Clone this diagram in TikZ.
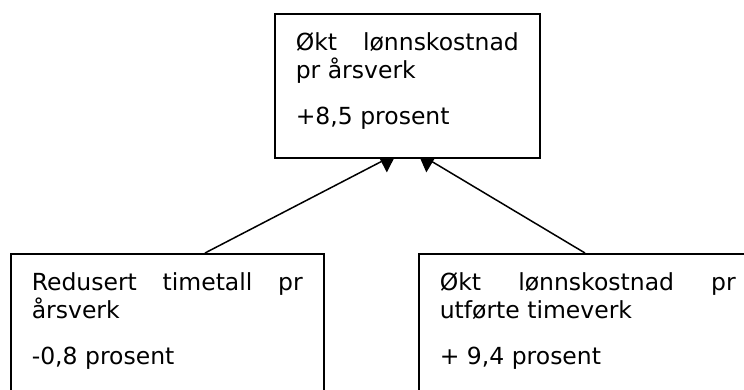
\documentclass[tikz,border=0pt]{standalone}
\usepackage{fontspec}
\setmainfont{DejaVu Sans}
\usetikzlibrary{arrows.meta, backgrounds}

\newcommand{\firststrut}{\rule{0pt}{19pt}}

\begin{document}
\begin{tikzpicture}[
  x=1pt, y=-1pt,
  % --- Styles ---
  tbox/.style={
    rectangle, draw=black, fill=white, line width=1.6pt,
    anchor=north west, inner xsep=21pt, inner ysep=18pt,
    font=\fontsize{23.5pt}{28pt}\selectfont},
  myarr/.style={-{Triangle[length=17pt, width=24pt]}, line width=1.5pt,
    shorten >=-10.5pt},
]
\useasboundingbox (0,0) rectangle (744,389);
\clip (0,0) rectangle (744,389);
% === BOXES ===
% Total
\node[tbox] (lonn) at (274,13) {%
  \parbox[t][108pt][t]{223pt}{\firststrut
    Økt\hfill lønnskostnad\\
    pr årsverk\\[18pt]
    +8,5 prosent}};
% Timetall
\node[tbox] (time) at (10,253) {%
  \parbox[t][114pt][t]{271pt}{\firststrut
    Redusert\hfill timetall\hfill pr\\
    årsverk\\[18pt]
    -0,8 prosent}};
% Per timeverk
\node[tbox] (verk) at (418,253) {%
  \parbox[t][114pt][t]{296pt}{\firststrut
    Økt\hfill lønnskostnad\hfill pr\\
    utførte timeverk\\[18pt]
    + 9,4 prosent}};
% === ARROWS ===
\begin{scope}[on background layer]
\draw[myarr] ([xshift=195pt]time.north west) -- ([xshift=113pt]lonn.south west);
\draw[myarr] ([xshift=167pt]verk.north west) -- ([xshift=153pt]lonn.south west);
\end{scope}
\end{tikzpicture}
\end{document}
